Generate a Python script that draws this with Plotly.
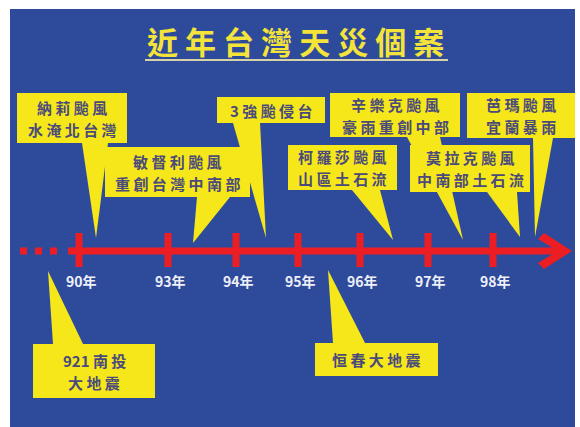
import plotly.graph_objects as go

W, H = 580, 427

# ---- data ----
title_text = "近年台灣天災個案"
years = ["90年", "93年", "94年", "95年", "96年", "97年", "98年"]
year_x = [79, 168, 236, 298, 360, 428, 493]

event_lines = [
    ["納莉颱風", "水淹北台灣"],
    ["敏督利颱風", "重創台灣中南部"],
    ["3強颱侵台"],
    ["柯羅莎颱風", "山區土石流"],
    ["辛樂克颱風", "豪雨重創中部"],
    ["莫拉克颱風", "中南部土石流"],
    ["芭瑪颱風", "宜蘭暴雨"],
    ["921南投", "大地震"],
    ["恒春大地震"],
]

# ---- layout geometry (callout boxes and pointers) ----
box_x0 = [17, 105, 217, 288, 330, 410, 467, 33, 315]
box_x1 = [127, 250, 325, 397, 460, 530, 575, 155, 438]
box_y0 = [93, 147, 97, 145, 93, 145, 93, 344, 343]
box_y1 = [143, 197, 123, 190, 137, 192, 138, 398, 376]
ptr_xa = [82, 197, 233, 352, 407, 487, 533, 53, 333]
ptr_xb = [108, 230, 260, 380, 440, 517, 553, 83, 365]
tip_x = [96, 193, 266, 393, 463, 520, 535, 48, 328]
tip_y = [238, 243, 238, 240, 240, 237, 237, 271, 270]
below = [False] * 7 + [True, True]

BLUE = "#2E4A9B"
YELLOW = "#F6E71B"
RED = "#EC1E24"
TEXT = "#4A4A7C"
CJK = "Noto Sans CJK TC"

line_y = 251
LINE_GAP = 22


def spaced(s):
    out = s[0]
    for a, b in zip(s, s[1:]):
        if not (a.isdigit() and b.isdigit()):
            out += " "
        out += b
    return out


fig = go.Figure()
shapes = []
annotations = []

# background panel
shapes.append(dict(type="rect", xref="x", yref="y", x0=10, y0=9, x1=575, y1=427,
                   fillcolor=BLUE, line=dict(width=0), layer="below"))

# timeline: dotted lead-in
for dx0 in [20, 35, 50]:
    shapes.append(dict(type="rect", xref="x", yref="y", x0=dx0, x1=dx0 + 7,
                       y0=line_y - 3.5, y1=line_y + 3.5, fillcolor=RED, line=dict(width=0)))
# main shaft
shapes.append(dict(type="rect", xref="x", yref="y", x0=68, x1=565,
                   y0=line_y - 3.5, y1=line_y + 3.5, fillcolor=RED, line=dict(width=0)))
# arrow head (chevron)
shapes.append(dict(type="path", xref="x", yref="y",
                   path=f"M 544 233 L 572 {line_y} L 544 269 L 538 263 L 558 {line_y} L 538 239 Z",
                   fillcolor=RED, line=dict(width=0)))
# year ticks and labels
for yx, lab in zip(year_x, years):
    shapes.append(dict(type="rect", xref="x", yref="y", x0=yx - 3.5, x1=yx + 3.5,
                       y0=233, y1=267, fillcolor=RED, line=dict(width=0)))
    annotations.append(dict(x=yx + 2, y=281, xref="x", yref="y", text=lab, showarrow=False,
                            font=dict(family=CJK, size=14, color="#EEF0F8", weight="bold"),
                            xanchor="center", yanchor="middle"))

# callouts
for i, lines in enumerate(event_lines):
    yb = box_y0[i] if below[i] else box_y1[i]
    shapes.append(dict(type="path", xref="x", yref="y",
                       path=f"M {ptr_xa[i]} {yb} L {ptr_xb[i]} {yb} L {tip_x[i]} {tip_y[i]} Z",
                       fillcolor=YELLOW, line=dict(width=0)))
    shapes.append(dict(type="rect", xref="x", yref="y", x0=box_x0[i], x1=box_x1[i],
                       y0=box_y0[i], y1=box_y1[i], fillcolor=YELLOW, line=dict(width=0)))
    cx = (box_x0[i] + box_x1[i]) / 2
    cy = (box_y0[i] + box_y1[i]) / 2
    n = len(lines)
    for k, ln in enumerate(lines):
        ly = cy + (k - (n - 1) / 2) * LINE_GAP
        annotations.append(dict(x=cx, y=ly, xref="x", yref="y", text=spaced(ln), showarrow=False,
                                font=dict(family=CJK, size=15, color=TEXT, weight="bold"),
                                xanchor="center", yanchor="middle"))

# title + underline
annotations.append(dict(x=295, y=40, xref="x", yref="y", text=" ".join(title_text), showarrow=False,
                        font=dict(family=CJK, size=31, color="#F4E43A", weight="bold"),
                        xanchor="center", yanchor="middle"))
shapes.append(dict(type="line", xref="x", yref="y", x0=145, x1=448, y0=60, y1=60,
                   line=dict(color="#D8D2A8", width=2)))

fig.update_layout(
    width=W, height=H,
    margin=dict(l=0, r=0, t=0, b=0),
    paper_bgcolor="white", plot_bgcolor="white",
    xaxis=dict(range=[0, W], visible=False, fixedrange=True),
    yaxis=dict(range=[H, 0], visible=False, fixedrange=True),
    shapes=shapes, annotations=annotations,
    showlegend=False,
)

fig.write_html("out.html", config={"displayModeBar": False},
               post_script="document.body.style.margin='0px';document.body.style.overflow='hidden';")
